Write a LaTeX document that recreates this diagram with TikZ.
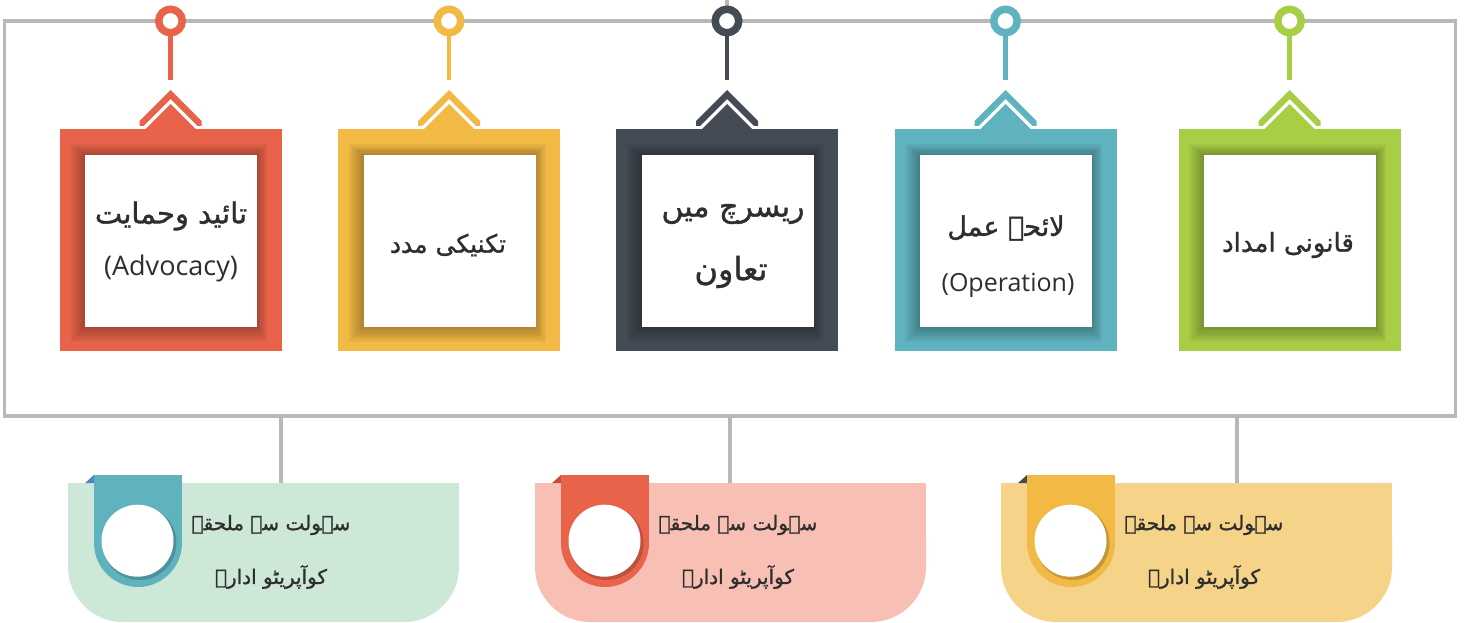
\documentclass[tikz,border=0pt]{standalone}
\usepackage{fontspec}
\setmainfont{Open Sans}
\newfontfamily\urdu[Script=Arabic, FakeBold=1.2]{DejaVu Sans}
\TeXXeTstate=1
\definecolor{cRed}{HTML}{E8634A}
\definecolor{cYel}{HTML}{F2B944}
\definecolor{cDark}{HTML}{454B55}
\definecolor{cTeal}{HTML}{5FB3BE}
\definecolor{cGreen}{HTML}{A8CE45}
\definecolor{frameGray}{HTML}{B8B8B8}
\definecolor{bGreen}{HTML}{CDE8D6}
\definecolor{bPink}{HTML}{F8C0B4}
\definecolor{bYel}{HTML}{F5D48A}
\definecolor{foldBlue}{HTML}{4F86C2}
\definecolor{foldRed}{HTML}{C94A36}
\definecolor{txt}{HTML}{2E2E2E}
\tikzset{
  urdutxt/.style={text=txt, font=\urdu\fontsize{#1}{40}\selectfont, inner sep=0pt},
  urdutxt/.default=26,
  urdusmall/.style={text=txt, font=\urdu\fontsize{20}{30}\selectfont, inner sep=0pt},
  engtxt/.style={text=txt, font=\fontsize{#1}{30}\selectfont, inner sep=0pt},
  engtxt/.default=25,
  whitebox/.style={fill=white, minimum width=172pt, minimum height=172pt, inner sep=0pt},
  conn/.style={frameGray, line width=3.5pt}
}
\begin{document}
\begin{tikzpicture}[x=1pt,y=-1pt]
\useasboundingbox (0,0) rectangle (1469,623);
% frame
\draw[conn] (4.5,21) rectangle (1455.5,416);
\coordinate (topend) at (727,0);
\coordinate (topring) at (727,21);
\draw[conn] (topend) -- (topring);
% cards
\foreach \n/\cx/\col in {1/170.5/cRed, 2/449/cYel, 3/727/cDark, 4/1005.5/cTeal, 5/1289.5/cGreen}{
  \fill[\col] (\cx-111,129) rectangle (\cx+111,351);
  \foreach \k in {1,...,9}{
    \fill[black,opacity=0.03] (\cx-86-\k*1.6,155-\k*1.2) rectangle (\cx+86+\k*1.2,327+\k*1.7);
  }
  \fill[\col] (\cx-25,129) -- (\cx,104) -- (\cx+25,129) -- cycle;
  \fill[\col] (\cx,90) -- (\cx+31,121) -- (\cx+31,126) -- (\cx+27,126) -- (\cx,99) -- (\cx-27,126) -- (\cx-31,126) -- (\cx-31,121) -- cycle;
  \draw[\col, line width=4.5pt] (\cx,30) -- (\cx,80);
  \draw[\col, line width=7.5pt, fill=white] (\cx,21) circle[radius=11.75pt];
  \node[whitebox] (w\n) at (\cx+0.5,241) {};
}
% card texts
\node[urdutxt=29] (t1) at (171,216) {\beginR تائید وحمایت\endR};
\node[engtxt=27] (e1) at (171,268) {(Advocacy)};
\node[urdutxt=25] (t2) at (448,245) {\beginR تکنیکی مدد\endR};
\node[urdutxt=30] (t3a) at (733,214) {\beginR ریسرچ میں\endR};
\node[urdutxt=32] (t3b) at (731,272) {\beginR تعاون\endR};
\node[urdutxt=27] (t4) at (1006,228) {\beginR لائحہ عمل\endR};
\node[engtxt=25] (e4) at (1008,285) {(Operation)};
\node[urdutxt=26] (t5) at (1288,245) {\beginR قانونی امداد\endR};
% bottom boxes
\foreach \n/\x/\col/\tab/\fold in {1/68/bGreen/cTeal/foldBlue, 2/535/bPink/cRed/foldRed, 3/1001/bYel/cYel/cDark}{
  \fill[\col] (\x,483) rectangle (\x+391,560);
  \fill[\col, rounded corners=55pt] (\x,483) rectangle (\x+391,622);
  \fill[\fold] (\x+17,483) -- (\x+26,475) -- (\x+26,483) -- cycle;
  \fill[\tab] (\x+26,475) rectangle (\x+114,543);
  \fill[\tab] (\x+70,543) circle[radius=44pt];
  \fill[black,opacity=0.18] (\x+71.5,543) circle[radius=37pt];
  \node[circle, fill=white, minimum size=72pt, inner sep=0pt] (bc\n) at (\x+69.5,540.7) {};
  \node[urdusmall] (ba\n) at (\x+203,525) {\beginR سہولت سے ملحقہ\endR};
  \node[urdusmall] (bb\n) at (\x+203,577) {\beginR کوآپریٹو ادارے\endR};
}
% connectors from frame to boxes
\coordinate (f1) at (281,416);   \coordinate (g1) at (281,483);
\coordinate (f2) at (730,416);   \coordinate (g2) at (730,483);
\coordinate (f3) at (1237,416);  \coordinate (g3) at (1237,483);
\draw[conn] (f1) -- (g1);
\draw[conn] (f2) -- (g2);
\draw[conn] (f3) -- (g3);
\end{tikzpicture}
\end{document}
